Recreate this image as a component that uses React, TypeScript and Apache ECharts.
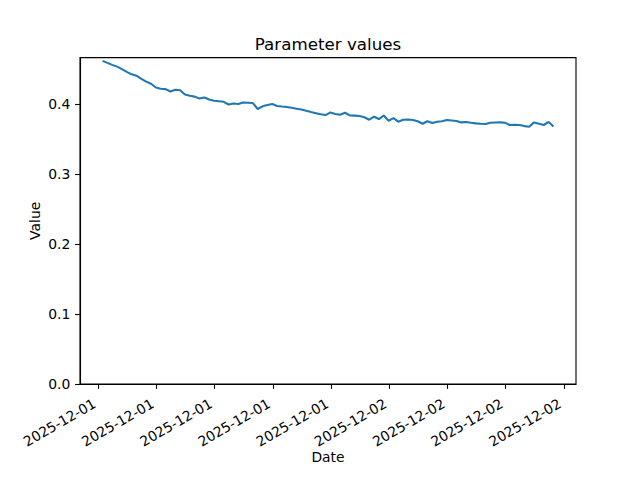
import React, { useEffect, useRef } from "react";
import * as echarts from "echarts";

const timestamps: string[] = [
  "2025-12-01 09:13", "2025-12-01 09:28", "2025-12-01 09:43", "2025-12-01 09:58",
  "2025-12-01 10:13", "2025-12-01 10:28", "2025-12-01 10:43", "2025-12-01 10:58",
  "2025-12-01 11:13", "2025-12-01 11:28", "2025-12-01 11:43", "2025-12-01 11:58",
  "2025-12-01 12:13", "2025-12-01 12:28", "2025-12-01 12:43", "2025-12-01 12:58",
  "2025-12-01 13:13", "2025-12-01 13:28", "2025-12-01 13:43", "2025-12-01 13:58",
  "2025-12-01 14:13", "2025-12-01 14:28", "2025-12-01 14:43", "2025-12-01 14:58",
  "2025-12-01 15:13", "2025-12-01 15:28", "2025-12-01 15:43", "2025-12-01 15:58",
  "2025-12-01 16:13", "2025-12-01 16:28", "2025-12-01 16:43", "2025-12-01 16:58",
  "2025-12-01 17:13", "2025-12-01 17:28", "2025-12-01 17:43", "2025-12-01 17:58",
  "2025-12-01 18:13", "2025-12-01 18:28", "2025-12-01 18:43", "2025-12-01 18:58",
  "2025-12-01 19:13", "2025-12-01 19:28", "2025-12-01 19:43", "2025-12-01 19:58",
  "2025-12-01 20:13", "2025-12-01 20:28", "2025-12-01 20:43", "2025-12-01 20:58",
  "2025-12-01 21:13", "2025-12-01 21:28", "2025-12-01 21:43", "2025-12-01 21:58",
  "2025-12-01 22:13", "2025-12-01 22:28", "2025-12-01 22:43", "2025-12-01 22:58",
  "2025-12-01 23:13", "2025-12-01 23:28", "2025-12-01 23:43", "2025-12-01 23:58",
  "2025-12-02 00:13", "2025-12-02 00:28", "2025-12-02 00:43", "2025-12-02 00:58",
  "2025-12-02 01:13", "2025-12-02 01:28", "2025-12-02 01:43", "2025-12-02 01:58",
  "2025-12-02 02:13", "2025-12-02 02:28", "2025-12-02 02:43", "2025-12-02 02:58",
  "2025-12-02 03:13", "2025-12-02 03:28", "2025-12-02 03:43", "2025-12-02 03:58",
  "2025-12-02 04:13", "2025-12-02 04:28", "2025-12-02 04:43", "2025-12-02 04:58",
  "2025-12-02 05:13", "2025-12-02 05:28", "2025-12-02 05:43", "2025-12-02 05:58",
  "2025-12-02 06:13", "2025-12-02 06:28", "2025-12-02 06:43", "2025-12-02 06:58",
  "2025-12-02 07:13", "2025-12-02 07:28", "2025-12-02 07:43", "2025-12-02 07:58",
  "2025-12-02 08:13", "2025-12-02 08:28",
];

const values: number[] = [
  0.4612, 0.4584, 0.4555, 0.4530, 0.4494, 0.4456, 0.4420, 0.4401, 0.4356, 0.4316,
  0.4285, 0.4232, 0.4214, 0.4209, 0.4175, 0.4199, 0.4192, 0.4131, 0.4114, 0.4102,
  0.4075, 0.4090, 0.4060, 0.4043, 0.4036, 0.4028, 0.3990, 0.4004, 0.3996, 0.4018,
  0.4014, 0.4010, 0.3925, 0.3964, 0.3982, 0.3996, 0.3969, 0.3960, 0.3954, 0.3942,
  0.3930, 0.3917, 0.3899, 0.3882, 0.3866, 0.3849, 0.3839, 0.3876, 0.3855, 0.3843,
  0.3872, 0.3833, 0.3831, 0.3825, 0.3808, 0.3772, 0.3815, 0.3782, 0.3833, 0.3758,
  0.3796, 0.3744, 0.3772, 0.3775, 0.3768, 0.3751, 0.3715, 0.3751, 0.3725, 0.3744,
  0.3751, 0.3768, 0.3761, 0.3754, 0.3734, 0.3741, 0.3730, 0.3720, 0.3715, 0.3712,
  0.3730, 0.3732, 0.3734, 0.3730, 0.3697, 0.3700, 0.3698, 0.3681, 0.3673, 0.3734,
  0.3715, 0.3697, 0.3740, 0.3677,
];

// x tick positions, in hours since 2025-12-01 00:00
const xTickHours: number[] = [9, 12, 15, 18, 21, 24, 27, 30, 33];
const yTicks: number[] = [0, 0.1, 0.2, 0.3, 0.4];

const TITLE = "Parameter values";
const X_NAME = "Date";
const Y_NAME = "Value";

const FONT = "DejaVu Sans";
const BLUE = "#1f77b4";

function toHours(s: string): number {
  const [d, t] = s.split(" ");
  const day = Number(d.slice(8)) - 1;
  const [hh, mm] = t.split(":").map(Number);
  return day * 24 + hh + mm / 60;
}

function hourLabel(h: number): string {
  const day = Math.floor(h / 24 + 1e-9) + 1;
  return `2025-12-${String(day).padStart(2, "0")}`;
}

export default function App() {
  const ref = useRef<HTMLDivElement>(null);

  useEffect(() => {
    if (!ref.current) return;
    const chart = echarts.init(ref.current, undefined, { renderer: "svg" });

    const xs = timestamps.map(toHours);
    const data = xs.map((x, i) => [x, values[i]]);
    const xMinD = Math.min(...xs);
    const xMaxD = Math.max(...xs);
    const xSpan = xMaxD - xMinD;
    const yMinD = Math.min(...values);
    const yMaxD = Math.max(...values);
    const ySpan = yMaxD - yMinD;

    chart.setOption({
      animation: false,
      backgroundColor: "#ffffff",
      textStyle: { fontFamily: FONT },
      graphic: [
        {
          type: "text",
          x: 328,
          y: 44,
          style: {
            text: TITLE,
            fontFamily: FONT,
            fontSize: 16.7,
            fill: "#000",
            textAlign: "center",
            textVerticalAlign: "middle",
          },
        },
      ],
      grid: {
        left: 80,
        right: 64,
        top: 57.6,
        bottom: 96,
        show: true,
        borderColor: "#000",
        borderWidth: 1.1,
        backgroundColor: "transparent",
      },
      xAxis: {
        type: "value",
        min: xMinD - 0.05 * xSpan,
        max: xMaxD + 0.05 * xSpan,
        name: X_NAME,
        nameLocation: "middle",
        nameGap: 66,
        nameMoveOverlap: false,
        nameTextStyle: { fontFamily: FONT, fontSize: 13.9, color: "#000" },
        axisLine: { show: true, onZero: false, lineStyle: { color: "#000", width: 1.1 } },
        axisTick: {
          show: true,
          length: 4.9,
          customValues: xTickHours,
          lineStyle: { color: "#000", width: 1.1 },
        },
        axisLabel: {
          customValues: xTickHours,
          rotate: 30,
          margin: 16,
          padding: [0, 4.5, 0, 0],
          fontFamily: FONT,
          fontSize: 13.9,
          color: "#000",
          formatter: (v: number) => hourLabel(v),
        },
        splitLine: { show: false },
      },
      yAxis: {
        type: "value",
        min: 0,
        max: yMaxD + 0.05 * ySpan,
        name: Y_NAME,
        nameLocation: "middle",
        nameGap: 38.5,
        nameMoveOverlap: false,
        nameTextStyle: { fontFamily: FONT, fontSize: 13.9, color: "#000" },
        axisLine: { show: true, onZero: false, lineStyle: { color: "#000", width: 1.1 } },
        axisTick: {
          show: true,
          length: 4.9,
          customValues: yTicks,
          lineStyle: { color: "#000", width: 1.1 },
        },
        axisLabel: {
          customValues: yTicks,
          margin: 9.7,
          fontFamily: FONT,
          fontSize: 13.9,
          color: "#000",
          formatter: (v: number) => v.toFixed(1),
        },
        splitLine: { show: false },
      },
      series: [
        {
          type: "line",
          data,
          showSymbol: false,
          symbol: "none",
          lineStyle: { color: BLUE, width: 2.08 },
          itemStyle: { color: BLUE },
          clip: true,
        },
      ],
    });

    return () => chart.dispose();
  }, []);

  return (
    <div
      ref={ref}
      style={{ position: "fixed", left: 0, top: 0, width: 640, height: 480 }}
    />
  );
}
